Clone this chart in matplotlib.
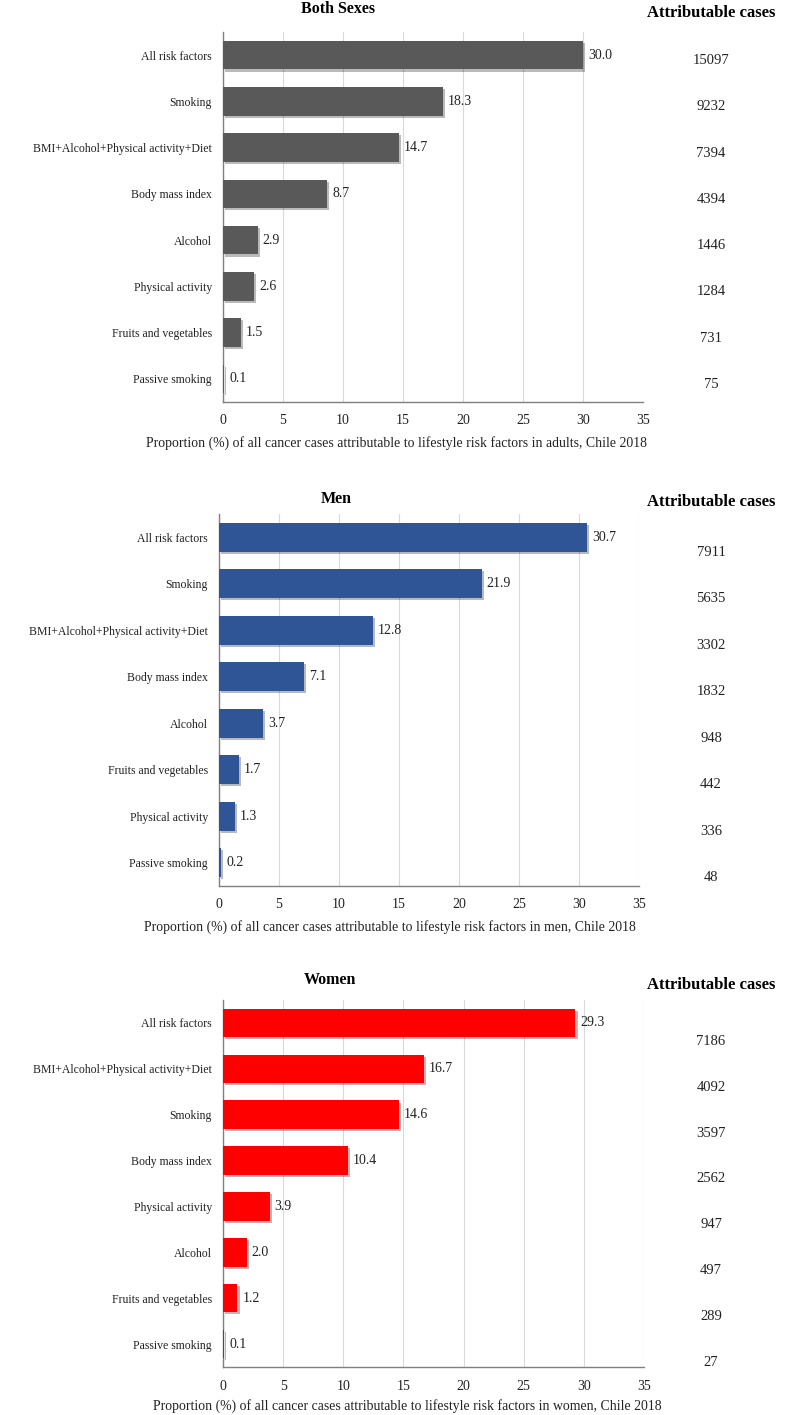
import matplotlib
matplotlib.use("Agg")
import matplotlib.pyplot as plt
import matplotlib.patheffects as pe
from matplotlib.transforms import blended_transform_factory

plt.rcParams['font.family'] = ['Liberation Serif', 'DejaVu Serif']

# data
both_labels = ['All risk factors', 'Smoking', 'BMI+Alcohol+Physical activity+Diet',
               'Body mass index', 'Alcohol', 'Physical activity',
               'Fruits and vegetables', 'Passive smoking']
both_values = [30.0, 18.3, 14.7, 8.7, 2.9, 2.6, 1.5, 0.1]
both_cases = [15097, 9232, 7394, 4394, 1446, 1284, 731, 75]

men_labels = ['All risk factors', 'Smoking', 'BMI+Alcohol+Physical activity+Diet',
              'Body mass index', 'Alcohol', 'Fruits and vegetables',
              'Physical activity', 'Passive smoking']
men_values = [30.7, 21.9, 12.8, 7.1, 3.7, 1.7, 1.3, 0.2]
men_cases = [7911, 5635, 3302, 1832, 948, 442, 336, 48]

women_labels = ['All risk factors', 'BMI+Alcohol+Physical activity+Diet', 'Smoking',
                'Body mass index', 'Physical activity', 'Alcohol',
                'Fruits and vegetables', 'Passive smoking']
women_values = [29.3, 16.7, 14.6, 10.4, 3.9, 2.0, 1.2, 0.1]
women_cases = [7186, 4092, 3597, 2562, 947, 497, 289, 27]

x_ticks = [0, 5, 10, 15, 20, 25, 30, 35]

W, H = 787, 1415
fig = plt.figure(figsize=(W / 100, H / 100), dpi=100)


def panel(left, right, top, bottom, labels, values, cases, color, title,
          title_xy, head_y, xlabel, xlabel_xy, cases_offset):
    ax = fig.add_axes([left / W, 1 - bottom / H, (right - left) / W, (bottom - top) / H])
    y = list(range(len(labels)))
    bars = ax.barh(y, values, height=0.62, color=color, zorder=3)
    for b in bars:
        b.set_path_effects([pe.SimplePatchShadow(offset=(1.5, -1.5), alpha=0.3), pe.Normal()])
    for i, v in enumerate(values):
        ax.text(v + 0.4, i, f'{v:.1f}', va='center', ha='left', fontsize=10, color='#222222')
    ax.set_ylim(len(labels) - 0.5, -0.5)
    ax.set_xlim(0, 35)
    ax.set_xticks(x_ticks)
    ax.set_yticks(y)
    ax.set_yticklabels(labels, fontsize=8.5)
    ax.tick_params(axis='both', length=0, colors='#222222')
    ax.tick_params(axis='x', labelsize=10, pad=9)
    ax.tick_params(axis='y', pad=8)
    ax.grid(axis='x', color='#d9d9d9', linewidth=0.8, zorder=0)
    ax.set_axisbelow(True)
    for s in ['top', 'right']:
        ax.spines[s].set_visible(False)
    for s in ['left', 'bottom']:
        ax.spines[s].set_color('#808080')
        ax.spines[s].set_linewidth(1.0)
    fig.text(xlabel_xy[0] / W, 1 - xlabel_xy[1] / H, xlabel, ha='center', va='center',
             fontsize=9.9, color='#222222')

    # attributable cases column
    tr = blended_transform_factory(ax.transAxes, ax.transData)
    cx = (711 - left) / (right - left)
    for i, c in enumerate(cases):
        ax.text(cx, i + cases_offset, str(c), transform=tr, ha='center', va='center',
                fontsize=10.5, color='#222222', clip_on=False)
    fig.text(711 / W, 1 - head_y / H, 'Attributable cases', ha='center', va='center',
             fontsize=12, fontweight='bold')
    fig.text(title_xy[0] / W, 1 - title_xy[1] / H, title, ha='center', va='center',
             fontsize=11.5, fontweight='bold')
    return ax


panel(223, 643, 32, 402, both_labels, both_values, both_cases, '#595959', 'Both Sexes',
      (338, 9), 13,
      'Proportion (%) of all cancer cases attributable to lifestyle risk factors in adults, Chile 2018',
      (397, 443), 0.12)
panel(219, 639, 514, 886, men_labels, men_values, men_cases, '#2F5597', 'Men',
      (336, 499), 502,
      'Proportion (%) of all cancer cases attributable to lifestyle risk factors in men, Chile 2018',
      (390, 927), 0.32)
panel(223, 644, 1000, 1367, women_labels, women_values, women_cases, '#FF0000', 'Women',
      (330, 980), 985,
      'Proportion (%) of all cancer cases attributable to lifestyle risk factors in women, Chile 2018',
      (407, 1406), 0.4)

fig.savefig('out.png', dpi=100)
